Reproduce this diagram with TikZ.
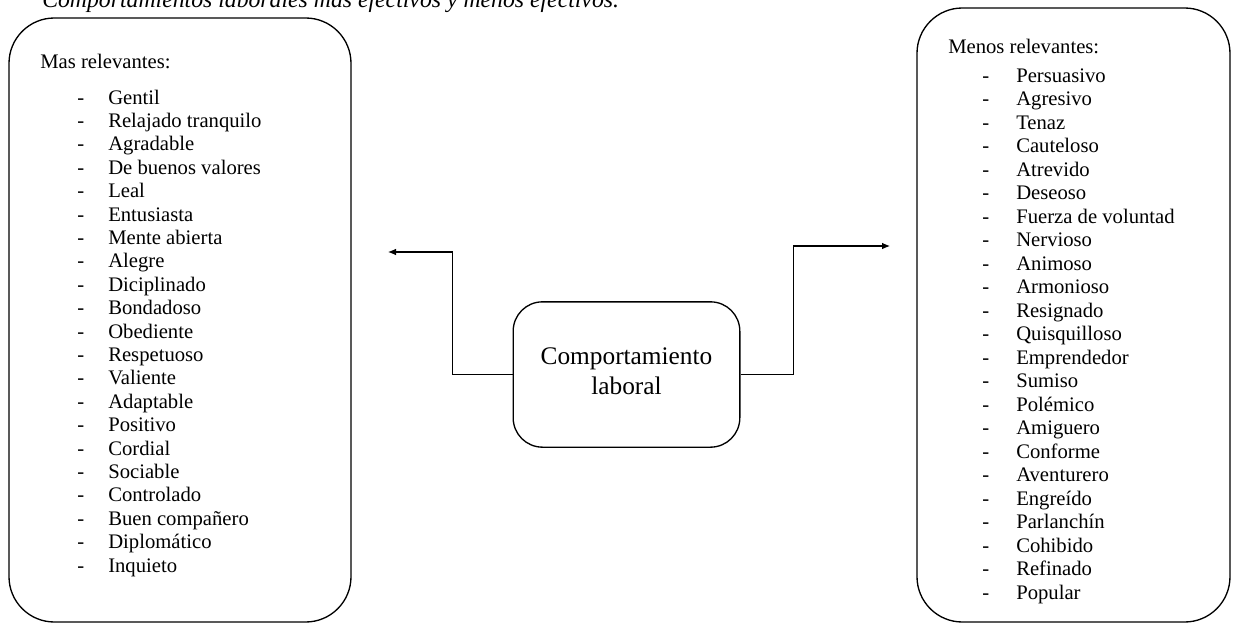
\documentclass[tikz,border=0pt]{standalone}
\usepackage{fontspec}
\setmainfont{Liberation Serif}
\usepackage{tikz}
\usetikzlibrary{arrows.meta}

\tikzset{
  caja/.style={draw, black, line width=1pt, rounded corners=34pt, inner sep=0pt},
  item/.style={anchor=base west, inner sep=0pt, font=\fontsize{15.5}{17}\selectfont},
  flecha/.style={-{Latex[length=6pt,width=5pt]}, black, line width=0.8pt}
}

\begin{document}
\begin{tikzpicture}[x=0.75pt, y=-0.75pt]
\useasboundingbox (0,0) rectangle (1233,625);
\clip (0,0) rectangle (1233,625);
% titulo (cortado arriba)
\node [anchor=base west, inner sep=0pt, font=\itshape\fontsize{17.8}{20}\selectfont] (titulo) at (42,7) {Comportamientos laborales más efectivos y menos efectivos.};
% cajas
\node [caja, minimum width=256.5pt, minimum height=453pt] (mas) at (180,320) {};
\node [caja, minimum width=234.75pt, minimum height=460.5pt] (menos) at (1073.5,315) {};
\node [caja, rounded corners=22pt, minimum width=170pt, minimum height=109pt, text depth=4.5pt, align=center, font=\fontsize{19}{22.5}\selectfont] (centro) at (626.5,374.5) {Comportamiento\\laboral};
% listas
\node [item] (tmas) at (40,68) {Mas relevantes:};
\foreach \w [count=\i] in {Gentil, Relajado tranquilo, Agradable, De buenos valores, Leal, Entusiasta, Mente abierta, Alegre, Diciplinado, Bondadoso, Obediente, Respetuoso, Valiente, Adaptable, Positivo, Cordial, Sociable, Controlado, Buen compañero, Diplomático, Inquieto}
{
  \node [item] (gm\i) at ({77},{104+23.4*(\i-1)}) {-};
  \node [item] (m\i) at ({108},{104+23.4*(\i-1)}) {\w};
}
\node [item] (tmenos) at (948,53) {Menos relevantes:};
\foreach \w [count=\i] in {Persuasivo, Agresivo, Tenaz, Cauteloso, Atrevido, Deseoso, Fuerza de voluntad, Nervioso, Animoso, Armonioso, Resignado, Quisquilloso, Emprendedor, Sumiso, Polémico, Amiguero, Conforme, Aventurero, Engreído, Parlanchín, Cohibido, Refinado, Popular}
{
  \node [item] (gn\i) at ({982},{82+23.5*(\i-1)}) {-};
  \node [item] (n\i) at ({1016},{82+23.5*(\i-1)}) {\w};
}
% flechas
\coordinate (fizq) at (388,252);
\coordinate (fder) at (890,246);
\draw [flecha] (centro.west) -- ++(-60,0) |- (fizq);
\draw [flecha] (centro.east) -- ++(53,0) |- (fder);
\end{tikzpicture}
\end{document}
